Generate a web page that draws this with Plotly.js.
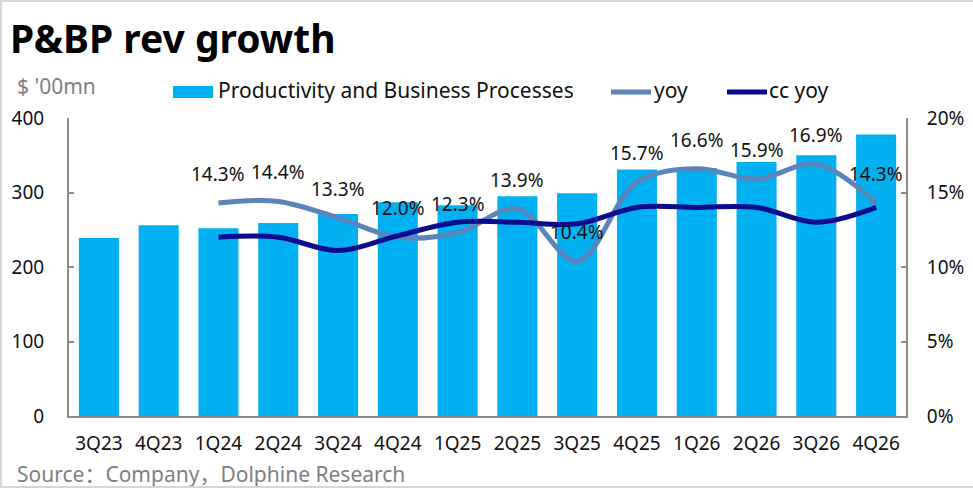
<!DOCTYPE html>
<html>
<head>
<meta charset="utf-8">
<script src="https://cdn.plot.ly/plotly-3.0.1.min.js"></script>
<style>
html,body{margin:0;padding:0;background:#fff;}
#wrap{position:relative;width:973px;height:488px;box-sizing:border-box;border:2px solid #d6d6d6;border-right:none;overflow:hidden;}
#chart{position:absolute;left:-2px;top:-2px;width:973px;height:488px;}
</style>
</head>
<body>
<div id="wrap"><div id="chart"></div></div>
<script>
const categories = ["3Q23","4Q23","1Q24","2Q24","3Q24","4Q24","1Q25","2Q25","3Q25","4Q25","1Q26","2Q26","3Q26","4Q26"];
const revenue = [239, 256, 252, 259, 271, 287, 283, 295, 299, 331, 333, 341, 350, 378];
const yoy = [null, null, 14.3, 14.4, 13.3, 12.0, 12.3, 13.9, 10.4, 15.7, 16.6, 15.9, 16.9, 14.3];
const ccYoy = [null, null, 12.0, 12.0, 11.1, 12.1, 13.0, 13.0, 12.9, 14.0, 14.0, 14.0, 13.0, 14.0];
const leftTicks = [0, 100, 200, 300, 400];
const rightTicks = [0, 5, 10, 15, 20];
const rightTickText = ["0%", "5%", "10%", "15%", "20%"];

const FONT = '"Noto Sans", "Open Sans", "Noto Sans CJK SC", sans-serif';
const W = 973, H = 488;
const L = 69, R = 906, T = 118, B = 416;
const px = x => (x - L) / (R - L);
const py = y => (B - y) / (B - T);

const barColor = '#00B0F0';
const yoyColor = '#5B84BC';
const ccColor = '#0B0B8E';

const traces = [
  {type:'bar', x:categories, y:revenue, name:'Productivity and Business Processes',
   marker:{color:barColor}, yaxis:'y', hoverinfo:'skip'},
  {type:'scatter', mode:'lines', x:categories, y:yoy, name:'yoy', yaxis:'y2',
   line:{color:yoyColor, width:5, shape:'spline', smoothing:1}, connectgaps:false, hoverinfo:'skip'},
  {type:'scatter', mode:'lines', x:categories, y:ccYoy, name:'cc yoy', yaxis:'y2',
   line:{color:ccColor, width:5, shape:'spline', smoothing:1}, connectgaps:false, hoverinfo:'skip'}
];

const annotations = [];
categories.forEach((c, i) => {
  if (yoy[i] !== null) {
    annotations.push({x:c, y:yoy[i], xref:'x', yref:'y2', text:yoy[i].toFixed(1)+'%',
      showarrow:false, yshift:29, font:{family:FONT, size:19, color:'#111'}});
  }
});
// unit label
annotations.push({xref:'paper', yref:'paper', x:px(15), y:py(86), xanchor:'left', yanchor:'middle',
  text:"$ '00mn", showarrow:false, font:{family:FONT, size:21, color:'#808080'}});
// legend texts
annotations.push({xref:'paper', yref:'paper', x:px(216), y:py(90), xanchor:'left', yanchor:'middle',
  text:'Productivity and Business Processes', showarrow:false, font:{family:FONT, size:21, color:'#111'}});
annotations.push({xref:'paper', yref:'paper', x:px(652), y:py(90), xanchor:'left', yanchor:'middle',
  text:'yoy', showarrow:false, font:{family:FONT, size:21, color:'#111'}});
annotations.push({xref:'paper', yref:'paper', x:px(767), y:py(90), xanchor:'left', yanchor:'middle',
  text:'cc yoy', showarrow:false, font:{family:FONT, size:21, color:'#111'}});
// source
annotations.push({xref:'paper', yref:'paper', x:px(15), y:py(474), xanchor:'left', yanchor:'middle',
  text:'Source：Company，Dolphine Research', showarrow:false, font:{family:FONT, size:21, color:'#808080'}});

const shapes = [
  {type:'rect', xref:'paper', yref:'paper', x0:px(173), x1:px(213), y0:py(86), y1:py(98),
   fillcolor:barColor, line:{width:0}},
  {type:'line', xref:'paper', yref:'paper', x0:px(611), x1:px(651), y0:py(92), y1:py(92),
   line:{color:yoyColor, width:5}},
  {type:'line', xref:'paper', yref:'paper', x0:px(727), x1:px(767), y0:py(92), y1:py(92),
   line:{color:ccColor, width:5}}
];

const layout = {
  width:W, height:H,
  margin:{l:L, r:W-R, t:T, b:H-B, pad:0},
  paper_bgcolor:'#fff', plot_bgcolor:'#fff',
  showlegend:false,
  bargap:0.33,
  font:{family:FONT, size:20, color:'#111'},
  title:{text:'<b>P&BP rev growth</b>', x:10/W, xanchor:'left', xref:'container',
         y:1-39/H, yanchor:'middle', yref:'container', font:{family:FONT, size:39, color:'#000'}},
  xaxis:{type:'category', showline:true, linecolor:'#8c8c8c', linewidth:2, ticks:'', showgrid:false,
         tickfont:{family:FONT, size:19, color:'#111'}, ticklabelstandoff:9, zeroline:false},
  yaxis:{range:[0,400], tickvals:leftTicks, showline:true, linecolor:'#8c8c8c', linewidth:2,
         ticks:'inside', ticklen:5, tickcolor:'#8c8c8c', tickwidth:2, showgrid:false, zeroline:false,
         tickfont:{family:FONT, size:19, color:'#111'}, ticklabelstandoff:19},
  yaxis2:{range:[0,20], tickvals:rightTicks, ticktext:rightTickText, overlaying:'y', side:'right',
          showline:true, linecolor:'#8c8c8c', linewidth:2, ticks:'inside', ticklen:5, tickcolor:'#8c8c8c',
          tickwidth:2, showgrid:false, zeroline:false,
          tickfont:{family:FONT, size:19, color:'#111'}, ticklabelstandoff:15},
  annotations:annotations,
  shapes:shapes
};

Plotly.newPlot('chart', traces, layout, {staticPlot:true, displayModeBar:false});
</script>
</body>
</html>
